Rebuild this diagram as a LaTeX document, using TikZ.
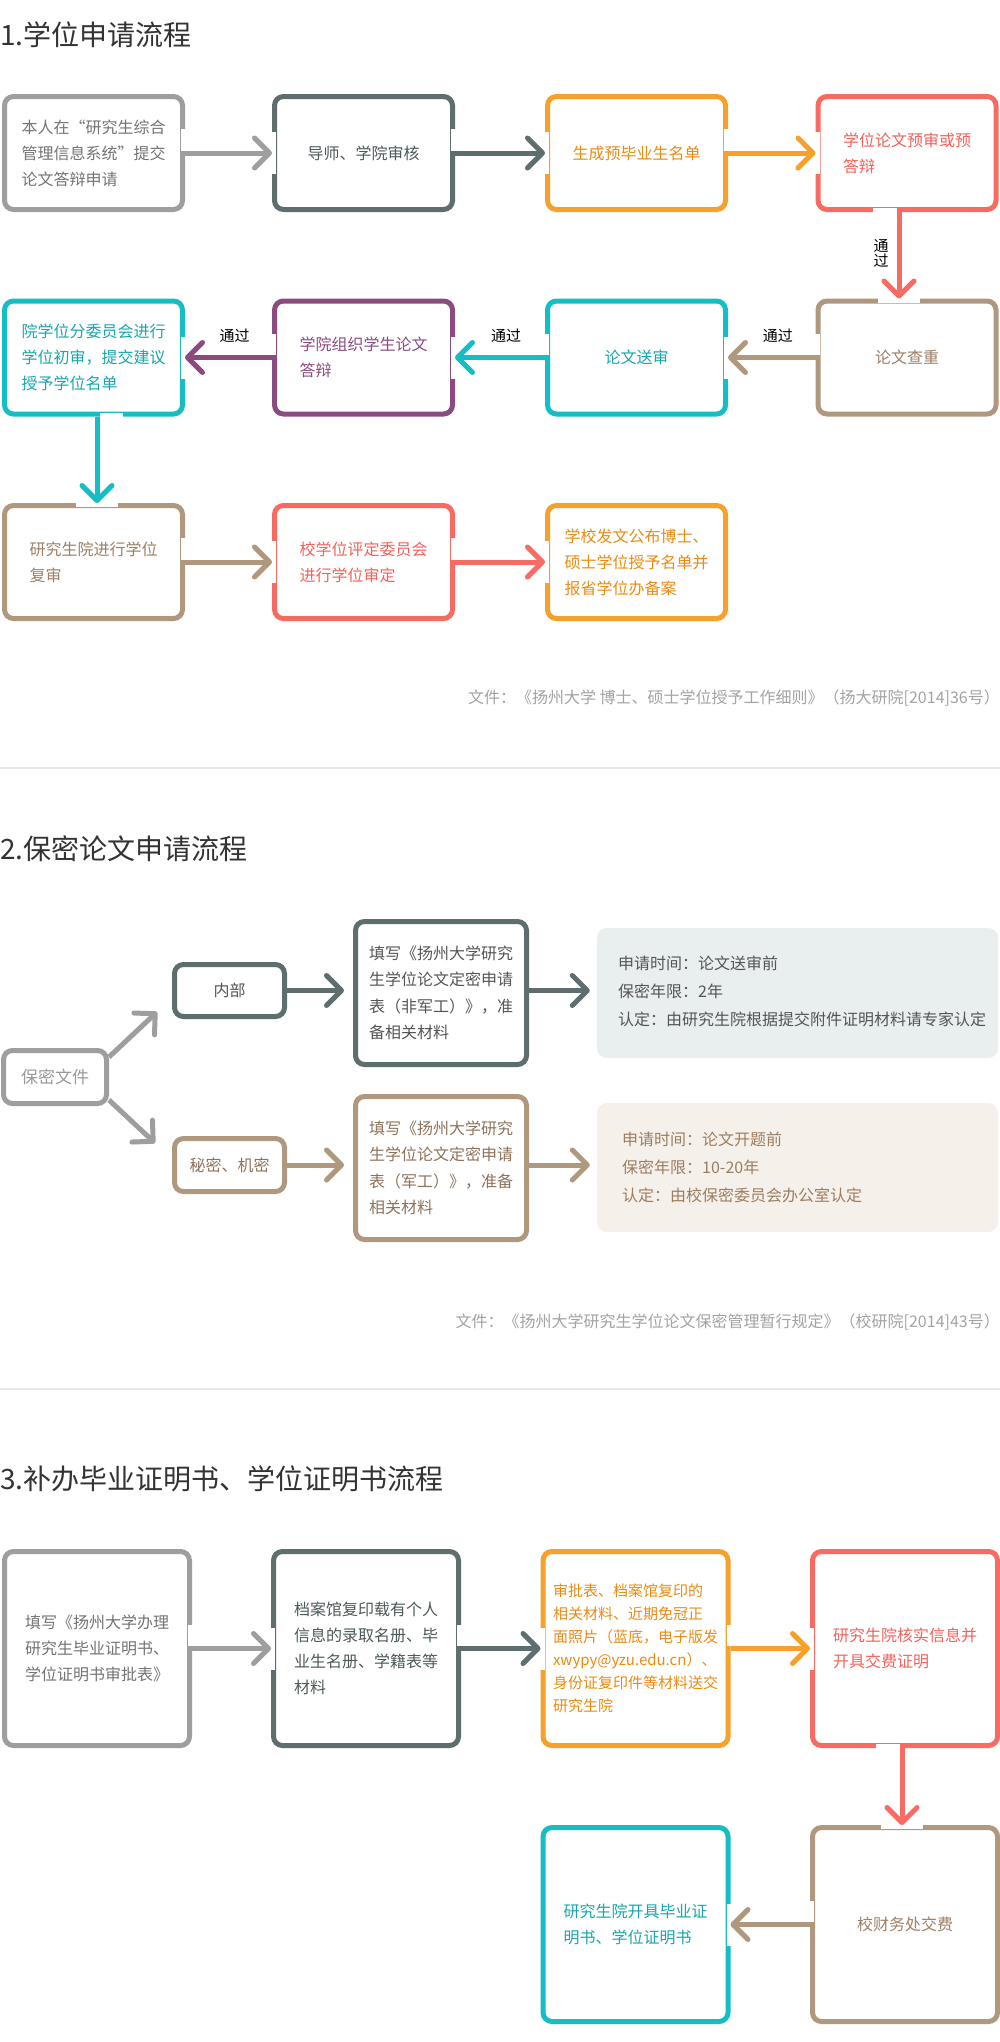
\documentclass[tikz,border=0pt]{standalone}
\usepackage{fontspec}
\setmainfont{Noto Sans CJK SC}
\usetikzlibrary{arrows.meta,calc}
\newcommand\myfs[2]{\fontsize{#1pt}{#2pt}\selectfont}
\definecolor{cgray}{HTML}{9E9E9E}
\definecolor{tgray}{HTML}{747474}
\definecolor{cslate}{HTML}{5E6D6E}
\definecolor{tslate}{HTML}{4E595A}
\definecolor{corange}{HTML}{F5A12B}
\definecolor{torange}{HTML}{EB8B12}
\definecolor{ccoral}{HTML}{F76B63}
\definecolor{tcoral}{HTML}{F4615A}
\definecolor{ctan}{HTML}{B0987F}
\definecolor{ttan}{HTML}{9C8066}
\definecolor{ccyan}{HTML}{15BEC5}
\definecolor{tcyan}{HTML}{18A6AD}
\definecolor{cpurple}{HTML}{8C4B80}
\definecolor{tpurple}{HTML}{8C4B80}
\definecolor{infoA}{HTML}{E9EEEE}
\definecolor{infoB}{HTML}{F5F0EA}
\definecolor{sepc}{HTML}{E8E8E8}
\definecolor{foot}{HTML}{A3A3A3}
\definecolor{ttl}{HTML}{333333}
\definecolor{dk}{HTML}{555555}
\definecolor{brn}{HTML}{8E735A}
\definecolor{brn2}{HTML}{9B7E62}
\definecolor{lgray}{HTML}{999999}
\newcommand\mygapE[1]{\fill[white] ($(#1.east)+(-4,-24)$) rectangle ($(#1.east)+(4,-2.5)$);}
\newcommand\mygapW[1]{\fill[white] ($(#1.west)+(-4,-24)$) rectangle ($(#1.west)+(4,-2.5)$);}
\newcommand\myinW[1]{\fill[white] ($(#1.west)+(-4,-21)$) rectangle ($(#1.west)+(4,21)$);}
\newcommand\myinE[1]{\fill[white] ($(#1.east)+(-4,-21)$) rectangle ($(#1.east)+(4,21)$);}
\begin{document}
\begin{tikzpicture}[x=1pt,y=-1pt,
  bx/.style={draw=#1, line width=5pt, rounded corners=9pt, fill=white, inner sep=0pt, align=left, font=\myfs{16}{26}},
  sA/.style={minimum width=178pt, minimum height=113pt},
  sC/.style={minimum width=185pt, minimum height=194pt},
  ar/.style={draw=#1, line width=5pt, -{Straight Barb[length=15pt,width=30pt,round]}},
  lbl/.style={font=\myfs{15}{15}, text=black, inner sep=0pt, align=center},
  ttlst/.style={anchor=west, inner sep=0pt, text=ttl, font=\myfs{28}{28}},
  ftst/.style={anchor=east, inner sep=0pt, text=foot, font=\myfs{16}{16}},
  infotx/.style={anchor=west, inner sep=0pt, align=left, font=\myfs{16}{28}}]
\useasboundingbox (0,0) rectangle (1000,2042);
\fill[white] (0,0) rectangle (1000,2042);

% titles
\node[ttlst] (t1) at (0,35) {1.学位申请流程};
\node[ttlst] (t2) at (0,849) {2.保密论文申请流程};
\node[ttlst] (t3) at (0,1479) {3.补办毕业证明书、学位证明书流程};

% separators
\draw[sepc, line width=1.5pt] (0,768) -- (1000,768);
\draw[sepc, line width=1.5pt] (0,1389) -- (1000,1389);

% ===== section 1 =====
\node[bx=cgray, text=tgray, sA] (a1) at (93.5,153) {本人在“研究生综合\\管理信息系统”提交\\论文答辩申请};
\node[bx=cslate, text=tslate, sA] (a2) at (363.5,153) {导师、学院审核};
\node[bx=corange, text=torange, sA] (a3) at (636.5,153) {生成预毕业生名单};
\node[bx=ccoral, text=tcoral, sA] (a4) at (907,153) {学位论文预审或预\\答辩};
\node[bx=ctan, text=ttan, sA] (a5) at (907,357.5) {论文查重};
\node[bx=ccyan, text=tcyan, sA] (a6) at (636.5,357.5) {论文送审};
\node[bx=cpurple, text=tpurple, sA] (a7) at (363.5,357.5) {学院组织学生论文\\答辩};
\node[bx=ccyan, text=tcyan, sA] (a8) at (93.5,357.5) {院学位分委员会进行\\学位初审，提交建议\\授予学位名单};
\node[bx=ctan, text=ttan, sA] (a9) at (93.5,562) {研究生院进行学位\\复审};
\node[bx=ccoral, text=tcoral, sA] (a10) at (363.5,562) {校学位评定委员会\\进行学位审定};
\node[bx=corange, text=torange, sA] (a11) at (636.5,562) {学校发文公布博士、\\硕士学位授予名单并\\报省学位办备案};

% gaps section 1
\mygapE{a1}\myinW{a2}
\mygapE{a2}\myinW{a3}
\mygapE{a3}\myinW{a4}
\fill[white] ($(a4.south)+(-34,-4)$) rectangle ($(a4.south)+(-10.5,4)$);
\fill[white] ($(a5.north)+(-29,-4)$) rectangle ($(a5.north)+(13,4)$);
\mygapW{a5}\myinE{a6}
\mygapW{a6}\myinE{a7}
\mygapW{a7}\myinE{a8}
\fill[white] ($(a8.south)+(6,-4)$) rectangle ($(a8.south)+(29,4)$);
\fill[white] ($(a9.north)+(-18,-4)$) rectangle ($(a9.north)+(24,4)$);
\mygapE{a9}\myinW{a10}
\mygapE{a10}\myinW{a11}

% arrows section 1
\draw[ar=cgray] (a1.east) -- (a2.west);
\draw[ar=cslate] (a2.east) -- (a3.west);
\draw[ar=corange] (a3.east) -- (a4.west);
\draw[ar=ccoral] ($(a4.south)+(-8,0)$) -- ($(a5.north)+(-8,0)$);
\node[lbl, font=\myfs{15}{15}] (l0) at ($(a4.south)+(-26,41)$) {通\\过};
\draw[ar=ctan] (a5.west) -- (a6.east);
\draw[ar=ccyan] (a6.west) -- (a7.east);
\draw[ar=cpurple] (a7.west) -- (a8.east);
\node[lbl] (l1) at ($(a5.west)!0.5!(a6.east)+(6,-22)$) {通过};
\node[lbl] (l2) at ($(a6.west)!0.5!(a7.east)+(6,-22)$) {通过};
\node[lbl] (l3) at ($(a7.west)!0.5!(a8.east)+(6,-22)$) {通过};
\draw[ar=ccyan] ($(a8.south)+(3.5,0)$) -- ($(a9.north)+(3.5,0)$);
\draw[ar=ctan] (a9.east) -- (a10.west);
\draw[ar=ccoral] (a10.east) -- (a11.west);

\node[ftst] (f1) at (1000,698) {文件：《扬州大学 博士、硕士学位授予工作细则》（扬大研院[2014]36号）};

% ===== section 2 =====
\node[bx=cgray, text=lgray, minimum width=103pt, minimum height=53pt, font=\myfs{17}{17}] (s0) at (55,1077) {保密文件};
\node[bx=cslate, text=dk, minimum width=110pt, minimum height=52pt] (s1) at (229.5,990.5) {内部};
\node[bx=ctan, text=brn, minimum width=110pt, minimum height=53pt] (s2) at (229.5,1165) {秘密、机密};
\node[bx=cslate, text=dk, minimum width=171pt, minimum height=143pt, font=\myfs{16}{26.5}] (s3) at (441,993) {填写《扬州大学研究\\生学位论文定密申请\\表（非军工）》，准\\备相关材料};
\node[bx=ctan, text=brn, minimum width=171pt, minimum height=143pt, font=\myfs{16}{26.5}] (s4) at (441,1168) {填写《扬州大学研究\\生学位论文定密申请\\表（军工）》，准备\\相关材料};
\node[fill=infoA, rounded corners=10pt, minimum width=401pt, minimum height=130pt, inner sep=0pt] (s5) at (797.5,993) {};
\node[fill=infoB, rounded corners=10pt, minimum width=401pt, minimum height=129pt, inner sep=0pt] (s6) at (797.5,1167.5) {};
\node[infotx, text=dk] (s5t) at (618,991) {申请时间：论文送审前\\保密年限：2年\\认定：由研究生院根据提交附件证明材料请专家认定};
\node[infotx, text=brn2] (s6t) at (622,1167.5) {申请时间：论文开题前\\保密年限：10-20年\\认定：由校保密委员会办公室认定};

\coordinate (d1) at (157,1012);
\coordinate (d2) at (155,1143);
\draw[ar=cgray] ($(s0.north east)+(0,9)$) -- (d1);
\draw[ar=cgray] ($(s0.south east)+(0,-6)$) -- (d2);
\draw[ar=cslate, shorten >=9pt] (s1.east) -- (s1.east -| s3.west);
\draw[ar=cslate, shorten >=7pt] (s1.east -| s3.east) -- (s1.east -| s5.west);
\draw[ar=ctan, shorten >=9pt] (s2.east) -- (s2.east -| s4.west);
\draw[ar=ctan, shorten >=7pt] (s2.east -| s4.east) -- (s2.east -| s6.west);

\node[ftst] (f2) at (1000,1322) {文件：《扬州大学研究生学位论文保密管理暂行规定》（校研院[2014]43号）};

% ===== section 3 =====
\node[bx=cgray, text=tgray, sC] (c1) at (97,1648.5) {填写《扬州大学办理\\研究生毕业证明书、\\学位证明书审批表》};
\node[bx=cslate, text=tslate, sC] (c2) at (366,1648.5) {档案馆复印载有个人\\信息的录取名册、毕\\业生名册、学籍表等\\材料};
\node[bx=corange, text=torange, sC, font=\myfs{15}{23}] (c3) at (635.5,1648.5) {审批表、档案馆复印的\\相关材料、近期免冠正\\面照片（蓝底，电子版发\\xwypy@yzu.edu.cn）、\\身份证复印件等材料送交\\研究生院};
\node[bx=ccoral, text=tcoral, sC] (c4) at (905,1648.5) {研究生院核实信息并\\开具交费证明};
\node[bx=ctan, text=ttan, sC] (c5) at (905,1924.5) {校财务处交费};
\node[bx=ccyan, text=tcyan, sC] (c6) at (635.5,1924.5) {研究生院开具毕业证\\明书、学位证明书};

\mygapE{c1}\myinW{c2}
\mygapE{c2}\myinW{c3}
\mygapE{c3}\myinW{c4}
\fill[white] ($(c4.south)+(-29,-4)$) rectangle ($(c4.south)+(-5.5,4)$);
\fill[white] ($(c5.north)+(-24,-4)$) rectangle ($(c5.north)+(18,4)$);
\mygapW{c5}\myinE{c6}

\draw[ar=cgray] (c1.east) -- (c2.west);
\draw[ar=cslate] (c2.east) -- (c3.west);
\draw[ar=corange] (c3.east) -- (c4.west);
\draw[ar=ccoral] ($(c4.south)+(-3,0)$) -- ($(c5.north)+(-3,0)$);
\draw[ar=ctan] (c5.west) -- (c6.east);
\end{tikzpicture}
\end{document}
